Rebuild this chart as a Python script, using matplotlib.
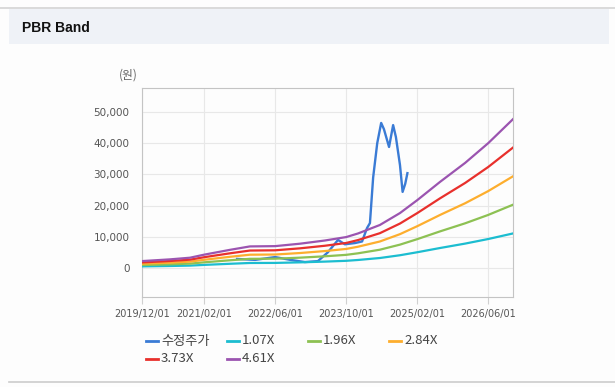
import numpy as np
import matplotlib.pyplot as plt
import matplotlib.dates as mdates
from matplotlib.lines import Line2D
from matplotlib.patches import Rectangle

plt.rcParams['font.family'] = ['Noto Sans CJK KR', 'DejaVu Sans']

# BPS (원) used for the bands
bpsDates = np.array(['2019-12-01', '2020-06-10', '2020-10-25', '2021-02-01', '2021-07-25',
                     '2021-12-10', '2022-06-01', '2022-11-19', '2023-05-07', '2023-10-01',
                     '2023-12-21', '2024-05-19', '2024-10-04', '2025-02-01', '2025-07-06',
                     '2025-12-25', '2026-06-01', '2026-11-18'], dtype='datetime64[D]')
bps = np.array([480, 600, 715, 930, 1260, 1500, 1520, 1690, 1910, 2150,
                2400, 2990, 3820, 4730, 5990, 7310, 8680, 10350])

multiples = [1.07, 1.96, 2.84, 3.73, 4.61]
bandLabels = ['1.07X', '1.96X', '2.84X', '3.73X', '4.61X']
bandColors = ['#1cbdd0', '#8dc153', '#fdae2e', '#e8302c', '#9b54b0']

# adjusted price (수정주가)
priceDates = np.array(['2021-09-13', '2022-01-15', '2022-06-01', '2022-09-13', '2022-12-22',
                       '2023-03-21', '2023-05-28', '2023-08-06', '2023-09-22', '2023-12-01',
                       '2024-01-18', '2024-02-21', '2024-03-12', '2024-04-03', '2024-05-01',
                       '2024-05-28', '2024-06-16', '2024-07-21', '2024-08-18', '2024-09-06',
                       '2024-10-04', '2024-10-22', '2024-11-09', '2024-11-24'], dtype='datetime64[D]')
price = np.array([2900, 2600, 3500, 2600, 1900, 2200, 5000, 9000, 7600, 8000,
                  8500, 12800, 14400, 29000, 40000, 46500, 44500, 38800, 45800, 42000,
                  33000, 24400, 27000, 30400])

xTicks = np.array(['2019-12-01', '2021-02-01', '2022-06-01', '2023-10-01', '2025-02-01',
                   '2026-06-01'], dtype='datetime64[D]')
yTicks = [0, 10000, 20000, 30000, 40000, 50000]

W, H = 615, 387
fig = plt.figure(figsize=(W / 100, H / 100), dpi=100)
fig.patch.set_facecolor('#fdfdfd')

# header strip and frame lines
fig.add_artist(Rectangle((9 / W, 1 - 44 / H), 600 / W, 35 / H, transform=fig.transFigure,
                         facecolor='#eff2f7', edgecolor='none', zorder=0))
fig.add_artist(Line2D([0, 1], [1 - 8 / H, 1 - 8 / H], transform=fig.transFigure,
                      color='#d4d4d4', lw=1.2))
fig.add_artist(Line2D([9 / W, 1], [1 - 382 / H, 1 - 382 / H], transform=fig.transFigure,
                      color='#cccccc', lw=1.2))
fig.text(22 / W, 1 - 28 / H, 'PBR Band', fontsize=10, fontweight='bold',
         family='Liberation Sans', va='center', ha='left', color='#111111')

ax = fig.add_axes([142 / W, 1 - 297 / H, 371 / W, 209 / H])
ax.set_facecolor('#fdfdfd')

ax.plot(priceDates, price, color='#3a7bd5', lw=1.7, zorder=2)
for m, c in zip(multiples, bandColors):
    ax.plot(bpsDates, bps * m, color=c, lw=1.6, zorder=3)

ax.set_xlim(np.datetime64('2019-12-01'), np.datetime64('2026-11-18'))
ax.set_ylim(-9300, 57700)
ax.set_xticks(xTicks)
ax.xaxis.set_major_formatter(mdates.DateFormatter('%Y/%m/%d'))
ax.set_yticks(yTicks)
ax.set_yticklabels(['{:,}'.format(v) for v in yTicks])

ax.grid(True, color='#e8e8e8', lw=0.8, zorder=0)
for s in ax.spines.values():
    s.set_color('#c4c4c4')
ax.tick_params(axis='x', length=5, color='#d0d0d0', labelsize=7, labelcolor='#555555', pad=4)
ax.tick_params(axis='y', length=0, labelsize=7.5, labelcolor='#555555', pad=9)
for t in ax.get_xticklabels() + ax.get_yticklabels():
    t.set_family('DejaVu Sans')

fig.text(128 / W, 1 - 75 / H, '(원)', fontsize=8.5, color='#666666', ha='center', va='center')

# legend, 4 columns
names = ['수정주가'] + bandLabels
colors = ['#3a7bd5'] + bandColors
for i, (n, c) in enumerate(zip(names, colors)):
    col, row = i % 4, i // 4
    x0 = 146 + col * 81
    y0 = 1 - (341 + row * 18) / H
    fig.add_artist(Line2D([x0 / W, (x0 + 12) / W], [y0, y0], transform=fig.transFigure,
                          color=c, lw=2))
    fig.text((x0 + 15) / W, y0, n, fontsize=9.5, color='#444444', va='center', ha='left')

fig.savefig('out.png', dpi=100, facecolor=fig.get_facecolor())
